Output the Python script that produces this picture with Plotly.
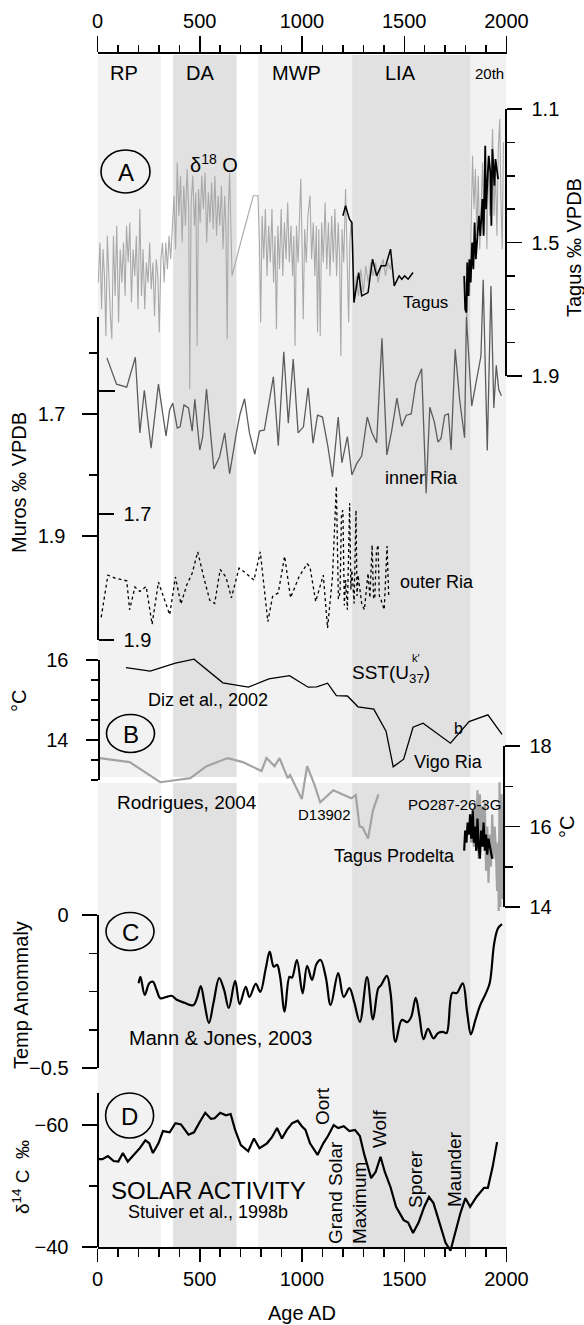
import plotly.graph_objects as go

W, H = 584, 1325
PX0, PX1 = 97.5, 506.5          # pixel columns of year 0 and year 2000

# ======================= DATA =======================
periods = ["RP", "DA", "MWP", "LIA", "20th"]
period_start = [0, 370, 785, 1245, 1825]
period_end = [310, 680, 1245, 1825, 2000]

year_major = [0, 500, 1000, 1500, 2000]

# Tagus d18O (grey, right axis, permil VPDB)
tagus_grey_a = [
    (4,1.62),(12,1.50),(20,1.70),(27,1.52),(34,1.60),(41,1.78),(48,1.48),(56,1.62),(63,1.72),(70,1.79),
    (78,1.48),(86,1.66),(94,1.45),(103,1.74),(111,1.52),(119,1.62),(127,1.50),(135,1.66),(142,1.45),(150,1.56),
    (158,1.44),(166,1.68),(174,1.52),(182,1.60),(190,1.48),(198,1.70),(207,1.40),(215,1.66),(223,1.52),(231,1.70),
    (239,1.56),(247,1.62),(255,1.50),(263,1.64),(271,1.56),(279,1.72),(287,1.55),(295,1.60),(302,1.77),(310,1.55),
    (318,1.50),(326,1.62),(334,1.50),(342,1.58),(350,1.48),(358,1.55),
    (366,1.45),(374,1.36),(382,1.52),(390,1.26),(398,1.42),(406,1.30),(414,1.50),(422,1.33),(430,1.45),(438,1.28),
    (446,1.40),(451,1.94),(458,1.38),(466,1.30),(474,1.45),(481,1.35),(487,1.81),(494,1.34),(502,1.44),(510,1.30),
    (518,1.40),(526,1.29),(534,1.50),(542,1.35),(550,1.44),(558,1.32),(566,1.46),(574,1.30),(582,1.48),(590,1.36),
    (598,1.45),(606,1.33),(614,1.52),(622,1.36),(628,1.45),(634,1.79),(640,1.40),(646,1.29),(652,1.45),(658,1.60),
    (700,1.50),(762,1.36),(785,1.36),
    (792,1.50),(798,1.74),(805,1.42),(813,1.55),(821,1.40),(829,1.60),(837,1.45),(845,1.56),(853,1.40),(861,1.62),
    (868,1.48),(875,1.76),(882,1.45),(890,1.58),(898,1.40),(906,1.60),(914,1.44),(922,1.55),(930,1.38),(938,1.56),
    (946,1.45),(954,1.60),(960,1.48),(966,1.81),(973,1.45),(981,1.56),(988,1.42),(994,1.31),(1000,1.50),(1006,1.73),
    (1013,1.46),(1021,1.56),(1029,1.42),(1039,1.36),(1047,1.55),(1055,1.44),(1063,1.60),(1070,1.45),(1076,1.77),(1082,1.46),
    (1089,1.78),(1096,1.44),(1104,1.56),(1113,1.38),(1121,1.58),(1129,1.44),(1137,1.60),(1145,1.42),(1153,1.56),(1161,1.40),
    (1169,1.60),(1177,1.44),(1184,1.55),(1190,1.84),(1196,1.46),(1204,1.56),(1213,1.34),(1220,1.52),(1228,1.74),(1234,1.50),
    (1240,1.44),
    (1248,1.50),(1256,1.68),(1266,1.60),(1276,1.66),(1288,1.58),(1300,1.65),(1312,1.57),(1324,1.62),(1336,1.56),(1348,1.60),
    (1360,1.56),(1372,1.62),(1384,1.58),(1396,1.55),(1408,1.60),(1420,1.56),(1432,1.58),(1440,1.55),
]
tagus_grey_b = [
    (1800,1.62),(1806,1.75),(1813,1.55),(1820,1.66),(1827,1.45),(1834,1.24),(1841,1.40),(1848,1.28),(1855,1.48),(1862,1.30),
    (1869,1.52),(1876,1.35),(1883,1.26),(1890,1.47),(1897,1.30),(1904,1.52),(1911,1.25),(1918,1.42),(1925,1.32),(1932,1.16),
    (1939,1.42),(1946,1.28),(1953,1.48),(1960,1.22),(1967,1.13),(1973,1.38),(1979,1.52),(1985,1.20),
]
# Tagus d18O (black)
tagus_black_a = [
    (1200,1.42),(1213,1.39),(1232,1.43),(1244,1.44),(1254,1.68),(1277,1.59),(1292,1.66),(1323,1.65),(1345,1.55),(1365,1.60),
    (1387,1.57),(1409,1.57),(1433,1.52),(1451,1.63),(1475,1.60),(1488,1.61),(1502,1.60),(1519,1.61),(1543,1.59),
]
tagus_black_b = [
    (1793,1.60),(1798,1.70),(1804,1.71),(1808,1.56),(1814,1.66),(1819,1.55),(1825,1.62),(1832,1.50),(1838,1.58),(1844,1.44),
    (1850,1.55),(1855,1.51),(1860,1.45),(1865,1.42),(1872,1.48),(1878,1.40),(1882,1.37),(1888,1.48),(1896,1.21),(1900,1.40),
    (1905,1.34),(1913,1.24),(1921,1.29),(1926,1.45),(1931,1.22),(1936,1.30),(1941,1.33),(1946,1.25),(1951,1.28),(1959,1.31),
]
# Muros inner Ria (left axis)
muros_inner = [
    (46,1.608),(93,1.651),(143,1.656),(185,1.607),(207,1.731),(229,1.661),(262,1.756),(298,1.651),(335,1.736),(353,1.693),
    (368,1.682),(390,1.723),(404,1.721),(423,1.685),(445,1.690),(463,1.728),(476,1.676),(500,1.759),(514,1.738),(533,1.659),
    (569,1.790),(597,1.770),(622,1.731),(646,1.798),(679,1.731),(697,1.700),(719,1.675),(743,1.731),(769,1.766),(792,1.728),
    (816,1.726),(834,1.690),(860,1.639),(884,1.752),(911,1.598),(933,1.715),(957,1.610),(981,1.731),(1007,1.721),(1030,1.657),
    (1054,1.748),(1076,1.702),(1100,1.705),(1127,1.754),(1149,1.803),(1177,1.705),(1195,1.780),(1222,1.737),(1244,1.800),(1268,1.781),
    (1292,1.769),(1319,1.705),(1341,1.730),(1365,1.747),(1391,1.576),(1415,1.767),(1438,1.729),(1464,1.674),(1488,1.720),(1510,1.702),
    (1534,1.700),(1557,1.649),(1585,1.626),(1607,1.830),(1625,1.689),(1647,1.713),(1665,1.746),(1680,1.740),(1698,1.702),(1716,1.700),
    (1729,1.759),(1749,1.594),(1771,1.677),(1795,1.739),(1804,1.541),(1830,1.687),(1859,1.631),(1875,1.605),(1886,1.480),(1906,1.760),
    (1924,1.490),(1938,1.690),(1950,1.620),(1962,1.660),(1975,1.670),
]
# Muros outer Ria
muros_outer = [
    (18,1.864),(51,1.797),(88,1.802),(143,1.806),(157,1.852),(183,1.816),(207,1.823),(238,1.815),(267,1.875),(298,1.808),
    (353,1.860),(381,1.800),(408,1.843),(436,1.813),(463,1.794),(490,1.760),(523,1.805),(549,1.837),(573,1.842),(600,1.788),
    (628,1.800),(655,1.833),(692,1.786),(719,1.792),(765,1.805),(796,1.760),(833,1.871),(856,1.831),(884,1.825),(915,1.767),
    (944,1.833),(985,1.800),(1025,1.779),(1039,1.784),(1067,1.839),(1104,1.797),(1125,1.881),(1149,1.800),(1168,1.656),(1178,1.835),
    (1186,1.825),(1193,1.700),(1200,1.694),(1207,1.845),(1213,1.805),(1222,1.852),(1233,1.683),(1239,1.820),(1244,1.789),(1255,1.842),
    (1264,1.694),(1269,1.830),(1274,1.797),(1292,1.842),(1305,1.852),(1323,1.794),(1332,1.833),(1343,1.749),(1350,1.835),(1356,1.833),
    (1364,1.760),(1372,1.749),(1378,1.830),(1383,1.833),(1402,1.852),(1416,1.751),(1424,1.831),
]
# Vigo Ria SST (deg C, left axis)
vigo_sst = [
    (139,15.81),(258,15.72),(381,15.92),(472,16.02),(613,15.43),(738,15.32),(838,15.53),(939,15.61),(1030,15.32),(1072,15.33),
    (1125,15.42),(1168,15.11),(1222,15.10),(1274,14.83),(1351,14.77),(1411,14.22),(1446,13.33),(1497,13.52),(1543,14.32),(1592,14.42),
    (1726,13.92),(1817,14.46),(1909,14.63),(1978,14.14),
]
# Tagus Prodelta D13902 (deg C, right axis)
d13902 = [
    (11,17.70),(157,17.60),(307,17.10),(454,17.20),(533,17.50),(637,17.70),(710,17.60),(802,17.38),(826,17.70),(866,17.50),
    (890,17.70),(930,17.20),(942,17.28),(999,16.68),(1025,17.50),(1058,17.08),(1089,16.60),(1153,16.90),(1241,16.70),(1263,16.78),
    (1281,16.00),(1296,15.98),(1323,15.70),(1347,16.40),(1374,16.80),
]
# PO287-26-3G (deg C, right axis)
po287_black = [
    (1793,15.4),(1798,15.9),(1804,15.6),(1810,16.1),(1817,15.8),(1822,16.3),(1828,15.7),(1835,16.4),(1840,15.6),(1846,16.0),
    (1852,15.4),(1858,16.2),(1864,15.5),(1870,15.2),(1876,15.9),(1882,15.5),(1888,16.1),(1894,15.4),(1900,15.8),(1906,15.3),
    (1912,15.7),(1918,15.5),(1924,15.3),(1930,15.2),
]
po287_grey = [
    (1826,15.6),(1834,16.2),(1840,15.5),(1846,16.6),(1852,15.4),(1858,16.9),(1864,15.2),(1870,16.8),(1876,15.6),(1882,16.5),
    (1888,15.5),(1894,16.6),(1900,14.9),(1906,16.0),(1912,14.6),(1918,15.8),(1924,15.0),(1930,16.3),(1936,15.2),(1942,16.0),
    (1948,15.4),(1954,14.4),(1958,15.6),(1962,13.9),(1966,17.1),(1970,14.0),(1976,16.8),(1981,14.2),
]
# Mann & Jones 2003 temperature anomaly
mann_jones = [
    (201,-0.223),(210,-0.202),(231,-0.261),(253,-0.223),(271,-0.218),(289,-0.245),(307,-0.272),(335,-0.268),(362,-0.264),(390,-0.278),
    (426,-0.287),(468,-0.295),(487,-0.271),(505,-0.232),(523,-0.288),(545,-0.353),(567,-0.288),(595,-0.206),(619,-0.245),(642,-0.304),
    (673,-0.215),(695,-0.291),(725,-0.235),(743,-0.268),(774,-0.225),(796,-0.251),(823,-0.174),(842,-0.120),(862,-0.169),(878,-0.163),
    (893,-0.202),(915,-0.316),(939,-0.202),(951,-0.205),(975,-0.147),(1003,-0.256),(1025,-0.166),(1049,-0.212),(1071,-0.160),(1091,-0.147),
    (1116,-0.202),(1140,-0.294),(1177,-0.190),(1204,-0.268),(1232,-0.239),(1255,-0.284),(1283,-0.349),(1318,-0.203),(1347,-0.341),(1373,-0.239),
    (1387,-0.229),(1415,-0.199),(1433,-0.255),(1457,-0.415),(1488,-0.343),(1515,-0.350),(1534,-0.333),(1556,-0.271),(1574,-0.330),(1594,-0.406),
    (1616,-0.372),(1643,-0.403),(1665,-0.386),(1689,-0.382),(1707,-0.386),(1735,-0.255),(1757,-0.255),(1786,-0.223),(1808,-0.321),(1826,-0.390),
    (1848,-0.343),(1872,-0.294),(1899,-0.256),(1918,-0.222),(1940,-0.092),(1958,-0.044),(1978,-0.030),
]
# delta14C (Stuiver et al., 1998b)
d14c = [
    (0,-54.4),(24,-54.4),(51,-54.9),(79,-54.1),(102,-54.0),(124,-55.4),(148,-54.0),(179,-55.1),(207,-56.2),(234,-57.5),
    (253,-57.0),(271,-55.4),(298,-57.0),(320,-59.0),(353,-58.8),(381,-60.3),(408,-60.1),(445,-58.4),(472,-58.8),(500,-60.5),
    (527,-62.0),(555,-61.0),(573,-61.1),(600,-62.0),(628,-61.6),(651,-61.8),(673,-59.2),(701,-56.7),(737,-55.7),(765,-57.8),
    (792,-56.2),(829,-57.0),(853,-58.0),(878,-59.5),(902,-57.8),(926,-59.2),(952,-60.3),(979,-60.7),(999,-59.8),(1017,-59.2),
    (1039,-57.0),(1076,-55.1),(1104,-57.0),(1127,-58.2),(1155,-60.0),(1177,-59.5),(1204,-59.8),(1232,-59.0),(1259,-59.2),(1283,-58.2),
    (1305,-55.1),(1338,-51.3),(1360,-52.3),(1384,-54.8),(1405,-52.3),(1433,-49.8),(1460,-46.6),(1497,-44.4),(1519,-44.0),(1543,-42.3),
    (1570,-44.0),(1598,-46.6),(1621,-48.2),(1643,-47.2),(1671,-44.0),(1702,-40.7),(1726,-39.4),(1749,-42.3),(1775,-45.6),(1799,-48.0),
    (1822,-46.6),(1853,-48.2),(1890,-49.7),(1909,-49.7),(1932,-53.1),(1954,-57.2),
]

# ======================= LAYOUT HELPERS =======================
FONT = "Liberation Sans, Arial, Helvetica, sans-serif"


def fy(p):
    return 1 - p / H


def fx(p):
    return p / W


XDOM = [fx(PX0), fx(PX1)]


def data_range(va, pa, vb, pb):
    """Linear value scale over the full figure height, given two (value, pixel-row) anchors."""
    s = (vb - va) / (pb - pa)
    return [va + (H - pa) * s, va + (0 - pa) * s]


def xy(series):
    return [p[0] for p in series], [p[1] for p in series]


fig = go.Figure()

# data axes (full height, hidden)
data_axes = {
    "yaxis": data_range(1.1, 109, 1.9, 376),      # Tagus
    "yaxis2": data_range(1.7, 414, 1.9, 536),     # Muros inner
    "yaxis3": data_range(1.7, 514, 1.9, 640),     # Muros outer
    "yaxis4": data_range(16, 660, 14, 740),       # Vigo SST
    "yaxis5": data_range(18, 746, 14, 907),       # Tagus prodelta SST
    "yaxis6": data_range(0, 915, -0.5, 1068),     # Temp anomaly
    "yaxis7": data_range(-60, 1125, -40, 1247),   # d14C
}
layout_axes = {}
for name, rng in data_axes.items():
    d = dict(domain=[0, 1], range=rng, visible=False, showgrid=False, zeroline=False, automargin=False)
    if name != "yaxis":
        d["overlaying"] = "y"
    layout_axes[name] = d


def disp_axis(top, bottom, rng, side, pos, major, labels, minor, ticks="outside",
              showline=True, major_len=15, minor_len=8, standoff=None):
    d = dict(domain=[fy(bottom), fy(top)], range=rng, anchor="free", position=fx(pos), side=side,
             showline=showline, linecolor="black", linewidth=2, ticks=ticks, ticklen=major_len,
             tickwidth=1.5, tickcolor="black", tickmode="array", tickvals=major, ticktext=labels,
             tickfont=dict(size=20, color="black", family=FONT), showgrid=False, zeroline=False,
             automargin=False,
             minor=dict(tickvals=minor, ticklen=minor_len, ticks=ticks, tickwidth=1.5,
                        tickcolor="black", showgrid=False))
    if standoff is not None:
        d["ticklabelstandoff"] = standoff
    return d


layout_axes["yaxis8"] = disp_axis(109, 376, [1.9, 1.1], "right", 505.5, [1.1, 1.5, 1.9], ["1.1", "1.5", "1.9"],
                                  [1.2, 1.3, 1.4, 1.6, 1.7, 1.8], standoff=6)
layout_axes["yaxis9"] = disp_axis(317, 640, [2.0705, 1.541], "left", 97.5, [1.7, 1.9], ["1.7", "1.9"],
                                  [1.6, 1.8], standoff=12)
# outer Ria scale: ticks drawn to the right of the Muros spine
layout_axes["yaxis10"] = disp_axis(486, 640, [1.9, 1.6556], "right", 97.5, [1.7, 1.9], ["1.7", "1.9"], [],
                                   showline=False, standoff=6)
layout_axes["yaxis11"] = disp_axis(660, 780, [13, 16], "left", 98.5, [14, 16], ["14", "16"],
                                   [13, 13.5, 14.5, 15, 15.5], major_len=12, minor_len=7, standoff=13)
layout_axes["yaxis12"] = disp_axis(746, 907, [14, 18], "right", 503.5, [14, 16, 18], ["14", "16", "18"],
                                   [15, 17], standoff=6)
layout_axes["yaxis13"] = disp_axis(915, 1068, [-0.5, 0], "left", 97.5, [-0.5, 0], ["\u22120.5", "0"],
                                   [-0.375, -0.25, -0.125], standoff=9)
layout_axes["yaxis14"] = disp_axis(1093, 1247, [-40, -65.25], "left", 97.5, [-60, -40], ["\u221260", "\u221240"],
                                   [-50], standoff=9)

# ======================= TRACES =======================
GREY = "#a9a9a9"
INNER = "#5c5c5c"


def line(series, yaxis, color, width, dash="solid", shape="linear"):
    x, y = xy(series)
    fig.add_trace(go.Scatter(x=x, y=y, xaxis="x", yaxis=yaxis, mode="lines",
                             line=dict(color=color, width=width, dash=dash, shape=shape),
                             showlegend=False, hoverinfo="skip"))


line(tagus_grey_a, "y", GREY, 1.1)
line(tagus_grey_b, "y", GREY, 1.1)
line(tagus_black_a, "y", "black", 1.5)
line(tagus_black_b, "y", "black", 1.8)
line(muros_inner, "y2", INNER, 1.3)
line(muros_outer, "y3", "black", 1.3, dash="dot")
line(vigo_sst, "y4", "black", 1.3)
line(d13902, "y5", "#a3a3a3", 2.2)
line(po287_grey, "y5", "#a3a3a3", 2.2)
line(po287_black, "y5", "black", 2.2)
line(mann_jones, "y6", "black", 2.2, shape="spline")
line(d14c, "y7", "black", 2.2)

# anchor traces so that the display axes are drawn
for ax in ["y8", "y9", "y10", "y11", "y12", "y13", "y14"]:
    fig.add_trace(go.Scatter(x=[None], y=[None], xaxis="x", yaxis=ax, mode="lines",
                             showlegend=False, hoverinfo="skip"))
fig.add_trace(go.Scatter(x=[None], y=[None], xaxis="x2", yaxis="y", mode="lines",
                         showlegend=False, hoverinfo="skip"))

# ======================= SHAPES =======================
shapes = []
shade = {"RP": "#f2f2f2", "DA": "#e1e1e1", "MWP": "#f2f2f2", "LIA": "#e1e1e1", "20th": "#f2f2f2"}
for name, a, b in zip(periods, period_start, period_end):
    for (t, btm) in [(55, 777), (783, 1247)]:
        shapes.append(dict(type="rect", xref="x", yref="paper", x0=a, x1=b, y0=fy(btm), y1=fy(t),
                           fillcolor=shade[name], line=dict(width=0), layer="below"))

circles = {"A": (125.5, 171.5, 24.5, 21.5), "B": (130.5, 733.5, 24, 19),
           "C": (130, 931.5, 24, 19), "D": (129.6, 1115.5, 24, 22.5)}
for k, (cx, cy, rx, ry) in circles.items():
    shapes.append(dict(type="circle", xref="paper", yref="paper", x0=fx(cx - rx), x1=fx(cx + rx),
                       y0=fy(cy + ry), y1=fy(cy - ry), line=dict(color="black", width=1.6)))
# short stroke at left of inner Ria
shapes.append(dict(type="line", xref="paper", yref="paper", x0=fx(97.5), x1=fx(115), y0=fy(391), y1=fy(391),
                   line=dict(color="black", width=2)))

# ======================= ANNOTATIONS =======================
anns = []


def ann(text, x, y, size, angle=0, xanchor="center", yanchor="middle", color="black"):
    anns.append(dict(text=text, x=fx(x), y=fy(y), xref="paper", yref="paper", showarrow=False,
                     textangle=angle, xanchor=xanchor, yanchor=yanchor,
                     font=dict(size=size, color=color, family=FONT)))


period_label_px = {"RP": 124, "DA": 200, "MWP": 296, "LIA": 400, "20th": 489}
for name in periods:
    ann(name, period_label_px[name], 73, 15 if name == "20th" else 20)

for k, (cx, cy, rx, ry) in circles.items():
    ann(k, cx, cy + 1, 24)

ann("\u03b4<sup>18</sup> O", 214, 163, 20)
ann("Tagus", 425, 302, 17)
ann("inner Ria", 421, 478, 18)
ann("outer Ria", 437, 582, 18)
ann("Tagus \u2030 VPDB", 574, 248, 20, angle=-90)
ann("Muros \u2030 VPDB", 19, 483, 20, angle=-90)
ann("\u00b0C", 19, 701, 20, angle=-90)
ann("\u00b0C", 567, 827, 20, angle=-90)
ann("Temp Anommaly", 21, 995, 20, angle=-90)
ann("\u03b4<sup>14</sup> C  \u2030", 21, 1177, 19, angle=-90)

ann("Diz et al., 2002", 208, 700, 18)
ann("SST(U<sub>37</sub>)", 350, 674, 19, xanchor="left")
ann("k\u2032", 410, 658, 11, xanchor="left")
ann("b", 458, 728, 16)
ann("Vigo Ria", 448, 762, 18)
ann("Rodrigues, 2004", 187, 802, 19)
ann("D13902", 325, 814, 15)
ann("PO287-26-3G", 455, 804, 15)
ann("Tagus Prodelta", 394, 856, 18)

ann("Mann &amp; Jones, 2003", 220, 1038, 20)

ann("SOLAR ACTIVITY", 208, 1190, 24)
ann("Stuiver et al., 1998b", 208, 1212, 18)
ann("Oort", 322, 1106, 19, angle=-90)
ann("Grand Solar", 335, 1193, 19, angle=-90)
ann("Maximum", 359, 1203, 19, angle=-90)
ann("Wolf", 379, 1129, 19, angle=-90)
ann("Sporer", 415, 1179, 19, angle=-90)
ann("Maunder", 454, 1169, 19, angle=-90)

ann("Age AD", 302, 1313, 20)

# ======================= X AXES =======================
xaxis_common = dict(domain=XDOM, range=[0, 2000], showgrid=False, zeroline=False, showline=True,
                    linecolor="black", linewidth=2, ticks="outside", tickwidth=1.5, tickcolor="black",
                    tickmode="array", tickvals=year_major, ticktext=[str(v) for v in year_major],
                    tickfont=dict(size=20, color="black", family=FONT), automargin=False)

xaxis = dict(xaxis_common, anchor="y14", side="bottom", ticklen=13,
             minor=dict(dtick=100, tick0=0, ticklen=8, ticks="outside", tickwidth=1.5, tickcolor="black",
                        showgrid=False))
xaxis2 = dict(xaxis_common, anchor="free", position=fy(53), side="top", ticklen=16,
              minor=dict(dtick=100, tick0=0, ticklen=7, ticks="outside", tickwidth=1.5, tickcolor="black",
                         showgrid=False))

fig.update_layout(
    template="none",
    width=W, height=H, margin=dict(l=0, r=0, t=0, b=0, autoexpand=False),
    paper_bgcolor="white", plot_bgcolor="rgba(0,0,0,0)",
    showlegend=False, hovermode=False,
    font=dict(family=FONT, color="black"),
    xaxis=xaxis, xaxis2=xaxis2,
    shapes=shapes, annotations=anns,
    **layout_axes,
)

fig.write_html("out.html",
               config={"displayModeBar": False, "staticPlot": True},
               post_script="document.body.style.margin='0px';document.body.style.padding='0px';"
                           "document.documentElement.style.overflow='hidden';")
